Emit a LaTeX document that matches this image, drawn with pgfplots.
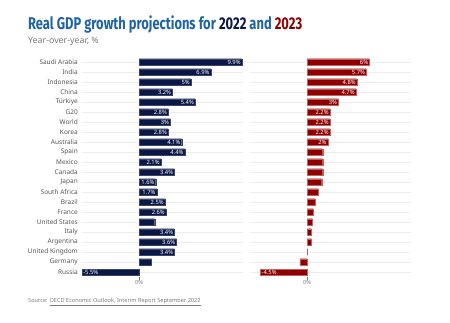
\documentclass[border=0pt]{standalone}
\usepackage{pgfplots}
\pgfplotsset{compat=1.18}
\usepackage{fontspec}
\usepackage{graphicx}
\setmainfont{Noto Sans}
\newfontfamily\titlefont{Fira Sans}
\definecolor{navybar}{HTML}{0B1846}
\definecolor{redbar}{HTML}{8E0000}
\definecolor{rededge}{HTML}{C06060}
\definecolor{titleblue}{HTML}{1F64A3}
\definecolor{gridc}{HTML}{EDEDED}
\definecolor{labc}{HTML}{555555}
\definecolor{subc}{HTML}{7A7A7A}
\pgfplotsset{
  panel/.style={
    anchor=south west, scale only axis, width=161pt, height=220pt,
    xmin=-5.5, xmax=10, ymin=-0.5, ymax=21.5, y dir=reverse,
    xbar, bar width=6.7pt, bar shift=0pt,
    ytick={0,...,21}, ymajorgrids, grid style={color=gridc, line width=0.6pt},
    ytick style={draw=none},
    xtick={0}, xticklabels={0\%}, xtick pos=bottom, tick align=outside,
    major tick length=2.5pt, xtick style={color=subc, line width=0.4pt},
    xticklabel style={font=\fontsize{5.6}{6}\selectfont, text=subc, inner sep=1pt},
    axis line style={draw=none},
    yticklabel style={font=\fontsize{6.5}{7}\selectfont, text=labc, inner sep=1.5pt},
    /pgf/number format/.cd, fixed, precision=1, assume math mode=true,
  },
  barlab/.style={
    nodes near coords={\pgfmathprintnumber{\pgfplotspointmeta}\%},
    every node near coord/.append style={font=\fontsize{5.8}{6}\selectfont\bfseries, text=white, anchor=east, inner sep=1.2pt},
  },
  barlabneg/.style={
    nodes near coords={\pgfmathprintnumber{\pgfplotspointmeta}\%},
    every node near coord/.append style={font=\fontsize{5.8}{6}\selectfont\bfseries, text=white, anchor=west, inner sep=1.2pt},
  },
}
\begin{document}
\begin{tikzpicture}
\useasboundingbox (0,0) rectangle (450pt,322pt);
\node[anchor=base west, inner sep=0pt] at (28pt,292pt) {\resizebox{274pt}{\height}{\titlefont\fontsize{17}{20}\selectfont\bfseries\color{titleblue}Real GDP growth projections for \textcolor{navybar}{2022} and \textcolor{redbar}{2023}}};
\node[anchor=base west, inner sep=0pt] at (28pt,278.5pt) {\fontsize{8.8}{10}\selectfont\color{subc}Year-over-year, \%};
\node[anchor=base west, inner sep=0pt] at (28pt,19.5pt) {\fontsize{5.6}{6}\selectfont\color{subc}Source: \underline{OECD Economic Outlook, Interim Report September 2022}};
% 2022 panel
\begin{axis}[panel, at={(82pt,45pt)},
  yticklabels={Saudi Arabia,India,Indonesia,China,Türkiye,G20,World,Korea,Australia,Spain,Mexico,Canada,Japan,South Africa,Brazil,France,United States,Italy,Argentina,United Kingdom,Germany,Russia}]
\addplot[fill=navybar, draw=navybar!80!white, line width=0.3pt, barlab] coordinates {
(9.9,0) (6.9,1) (5.0,2) (3.2,3) (5.4,4) (2.8,5) (3.0,6) (2.8,7) (4.1,8) (4.4,9) (2.1,10) (3.4,11) (1.6,12) (1.7,13) (2.5,14) (2.6,15) (3.4,17) (3.6,18) (3.4,19)};
\addplot[fill=navybar, draw=navybar!80!white, line width=0.3pt] coordinates {(1.5,16) (1.2,20)};
\addplot[fill=navybar, draw=navybar!80!white, line width=0.3pt, barlabneg] coordinates {(-5.5,21)};
\end{axis}
% 2023 panel
\begin{axis}[panel, at={(250pt,45pt)}, yticklabels={}]
\addplot[fill=redbar, draw=rededge, line width=0.3pt, barlab] coordinates {
(6.0,0) (5.7,1) (4.8,2) (4.7,3) (3.0,4) (2.2,5) (2.2,6) (2.2,7) (2.0,8)};
\addplot[fill=redbar, draw=rededge, line width=0.3pt] coordinates {
(1.5,9) (1.5,10) (1.5,11) (1.4,12) (1.1,13) (0.8,14) (0.6,15) (0.5,16) (0.4,17) (0.4,18) (0.0,19) (-0.7,20)};
\addplot[fill=redbar, draw=rededge, line width=0.3pt, barlabneg] coordinates {(-4.5,21)};
\end{axis}
\end{tikzpicture}
\end{document}
